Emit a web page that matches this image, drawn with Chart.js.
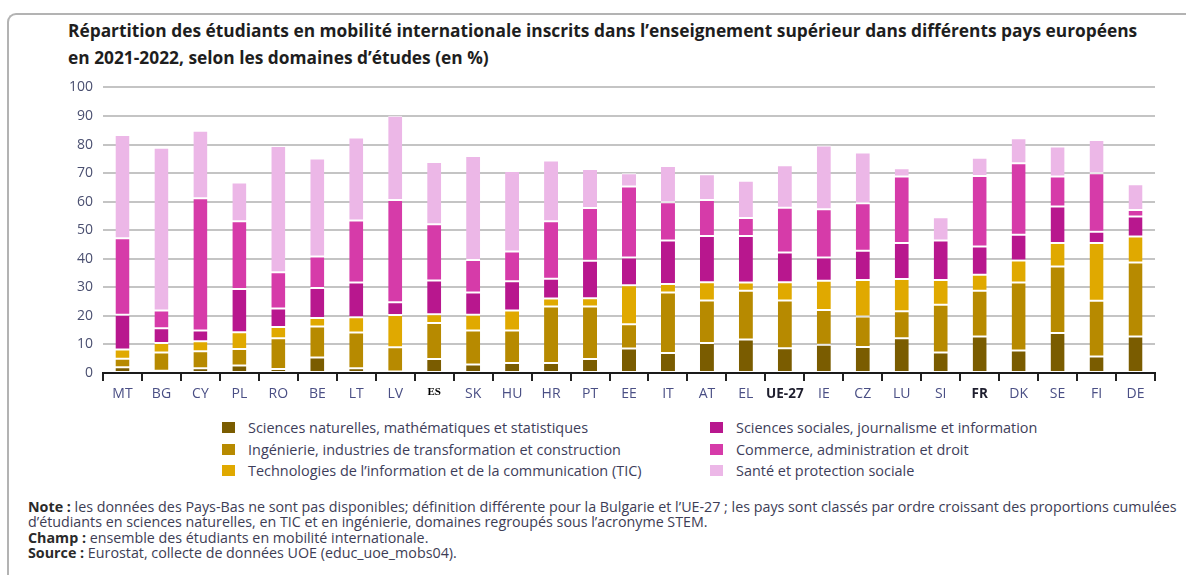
<!DOCTYPE html>
<html lang="fr">
<head>
<meta charset="utf-8">
<title>Étudiants en mobilité internationale</title>
<script src="https://cdn.jsdelivr.net/npm/chart.js@4.4.1/dist/chart.umd.min.js"></script>
<style>
  html, body { margin: 0; padding: 0; background: #fff; overflow: hidden; }
  body { width: 1186px; height: 575px; position: relative; font-family: "Open Sans", Lato, sans-serif; }
  .frame {
    position: absolute; left: 7px; top: 13px; width: 1300px; height: 700px;
    border-top: 2px solid #b3b3b3; border-left: 2px solid #b3b3b3;
    border-top-left-radius: 9px;
  }
  .title {
    position: absolute; left: 68px; top: 17px; white-space: nowrap;
    font-weight: bold; font-size: 15.5px; line-height: 27px; color: #1e1e1e;
  }
  .chart-box { position: absolute; left: 55px; top: 69px; width: 1110px; height: 336px; }
  .legend { position: absolute; left: 0; top: 0; font-size: 13px; color: #3d3d5a; }
  .legend .item { position: absolute; white-space: nowrap; height: 16px; line-height: 16px; }
  .legend .swatch { position: absolute; left: 0; top: 2px; width: 13px; height: 11px; }
  .legend .label { position: absolute; left: 26px; top: 0; }
  .notes {
    position: absolute; left: 28px; top: 499px; white-space: nowrap;
    font-size: 12.6px; line-height: 15.3px; color: #3d3d55;
  }
  .notes b { color: #2a2a2a; }
</style>
</head>
<body>
<div class="frame"></div>
<div class="title" id="title">
  <span id="title1">Répartition des étudiants en mobilité internationale inscrits dans l’enseignement supérieur dans différents pays européens</span><br>
  en 2021-2022, selon les domaines d’études (en %)
</div>

<div class="chart-box"><canvas id="chart"></canvas></div>
<div class="legend" id="legend"></div>

<div class="notes" id="notes">
  <span id="notes1"><b>Note :</b> les données des Pays-Bas ne sont pas disponibles; définition différente pour la Bulgarie et l’UE-27 ; les pays sont classés par ordre croissant des proportions cumulées</span><br>
  d’étudiants en sciences naturelles, en TIC et en ingénierie, domaines regroupés sous l’acronyme STEM.<br>
  <b>Champ :</b> ensemble des étudiants en mobilité internationale.<br>
  <b>Source :</b> Eurostat, collecte de données UOE (educ_uoe_mobs04).
</div>

<script>
// Countries, sorted by cumulated STEM share
const countries = ['MT', 'BG', 'CY', 'PL', 'RO', 'BE', 'LT', 'LV', 'ES', 'SK', 'HU', 'HR', 'PT', 'EE',
  'IT', 'AT', 'EL', 'UE-27', 'IE', 'CZ', 'LU', 'SI', 'FR', 'DK', 'SE', 'FI', 'DE'];

// Shares by field of study (%)
const sciencesNat = [2.0, 0.8, 1.7, 2.6, 1.4, 5.4, 1.7, 0.5, 4.9, 3.0, 3.5, 3.5, 4.9, 8.6,
  7.0, 10.5, 11.7, 8.7, 9.9, 9.1, 12.2, 7.2, 12.8, 7.9, 14.0, 5.8, 12.8];
const ingenierie = [3.0, 6.4, 5.9, 5.8, 10.8, 10.9, 12.5, 8.5, 12.6, 11.9, 11.4, 19.8, 18.4, 8.5,
  21.2, 14.9, 17.1, 16.7, 12.2, 10.7, 9.4, 16.7, 16.0, 23.8, 23.3, 19.5, 25.9];
const tic = [3.2, 3.3, 3.5, 5.9, 3.9, 3.0, 5.3, 11.3, 3.1, 5.5, 7.0, 2.8, 2.9, 13.6,
  3.0, 6.4, 2.9, 6.4, 10.2, 12.8, 11.3, 8.7, 5.6, 7.7, 8.2, 20.2, 9.1];
const sciencesSoc = [12.2, 5.2, 3.8, 15.1, 6.5, 10.5, 12.2, 4.5, 11.8, 7.8, 10.2, 6.9, 13.1, 9.7,
  15.2, 16.2, 16.3, 10.4, 8.1, 10.2, 12.6, 13.8, 9.9, 9.0, 12.8, 4.0, 7.0];
const commerce = [26.8, 6.2, 46.3, 23.7, 12.7, 11.0, 21.7, 35.8, 19.7, 11.4, 10.4, 20.1, 18.5, 24.9,
  13.4, 12.6, 6.3, 15.7, 16.9, 16.6, 23.3, 0, 24.7, 25.0, 10.5, 20.4, 2.3];
const sante = [36.1, 57.0, 23.6, 13.6, 44.2, 34.3, 29.1, 29.5, 21.8, 36.4, 28.2, 21.3, 13.6, 4.6,
  12.7, 9.0, 13.0, 14.8, 22.4, 17.8, 2.9, 8.1, 6.4, 8.8, 10.5, 11.7, 9.0];

const yTicks = [0, 10, 20, 30, 40, 50, 60, 70, 80, 90, 100];

const series = [
  { label: 'Sciences naturelles, mathématiques et statistiques', data: sciencesNat, color: '#7a5c00' },
  { label: 'Ingénierie, industries de transformation et construction', data: ingenierie, color: '#b78a00' },
  { label: 'Technologies de l’information et de la communication (TIC)', data: tic, color: '#e0a900' },
  { label: 'Sciences sociales, journalisme et information', data: sciencesSoc, color: '#b8178e' },
  { label: 'Commerce, administration et droit', data: commerce, color: '#d63ba9' },
  { label: 'Santé et protection sociale', data: sante, color: '#ecb7e7' }
];

const labelFont = (ctx) => {
  const name = countries[ctx.index];
  if (name === 'ES') return { family: '"Liberation Serif", "DejaVu Serif", serif', size: 11, weight: 'bold' };
  if (name === 'UE-27' || name === 'FR') return { family: '"Open Sans", sans-serif', size: 13.5, weight: 'bold' };
  return { family: '"Open Sans", sans-serif', size: 14 };
};
const labelColor = (ctx) => {
  const name = countries[ctx.index];
  if (name === 'ES') return '#000';
  if (name === 'UE-27' || name === 'FR') return '#1e1e2e';
  return '#4a4f85';
};

const chart = new Chart(document.getElementById('chart'), {
  type: 'bar',
  data: {
    labels: countries,
    datasets: series.map(s => ({
      label: s.label,
      data: s.data,
      backgroundColor: s.color,
      borderColor: '#ffffff',
      borderWidth: { top: 1, bottom: 1, left: 0, right: 0 },
      borderSkipped: false,
      barPercentage: 0.36,
      categoryPercentage: 1
    }))
  },
  options: {
    responsive: true,
    maintainAspectRatio: false,
    animation: false,
    layout: { padding: { top: 5, right: 10, left: 0, bottom: 0 } },
    plugins: { legend: { display: false }, tooltip: { enabled: false } },
    scales: {
      x: {
        stacked: true,
        afterFit: (scale) => { scale.height = 32; },
        grid: { drawOnChartArea: false, drawTicks: true, tickLength: 8, color: '#222', lineWidth: 2, offset: true },
        border: { display: true, color: '#1a1a1a', width: 2 },
        ticks: { padding: 5, font: labelFont, color: labelColor, maxRotation: 0, autoSkip: false }
      },
      y: {
        stacked: true,
        min: 0,
        max: 100,
        afterFit: (scale) => { scale.width = 48; },
        afterBuildTicks: (scale) => { scale.ticks = yTicks.map(v => ({ value: v })); },
        grid: { color: '#c4c4c4', lineWidth: 2, drawTicks: false },
        border: { display: false },
        ticks: { padding: 10, color: '#4a4f70', font: { family: '"Open Sans", sans-serif', size: 14 } }
      }
    }
  }
});

// Two-column legend built from the datasets
const legend = document.getElementById('legend');
const cols = [222, 710];
const rows = [420, 442, 463];
chart.data.datasets.forEach((ds, i) => {
  const item = document.createElement('div');
  item.className = 'item';
  item.style.left = cols[Math.floor(i / 3)] + 'px';
  item.style.top = rows[i % 3] + 'px';
  item.innerHTML = '<span class="swatch" style="background:' + ds.backgroundColor + '"></span>' +
    '<span class="label">' + ds.label + '</span>';
  legend.appendChild(item);
});

// Scale a text block's font so its reference line spans the same width as in the picture
function fitWidth(block, line, target) {
  const size = parseFloat(getComputedStyle(block).fontSize);
  const w = line.getBoundingClientRect().width;
  if (w > 0) block.style.fontSize = (size * target / w).toFixed(2) + 'px';
}
fitWidth(document.getElementById('title'), document.getElementById('title1'), 1069);
fitWidth(document.getElementById('notes'), document.getElementById('notes1'), 1149);
fitWidth(legend, legend.querySelector('.label'), 340);
</script>
</body>
</html>
